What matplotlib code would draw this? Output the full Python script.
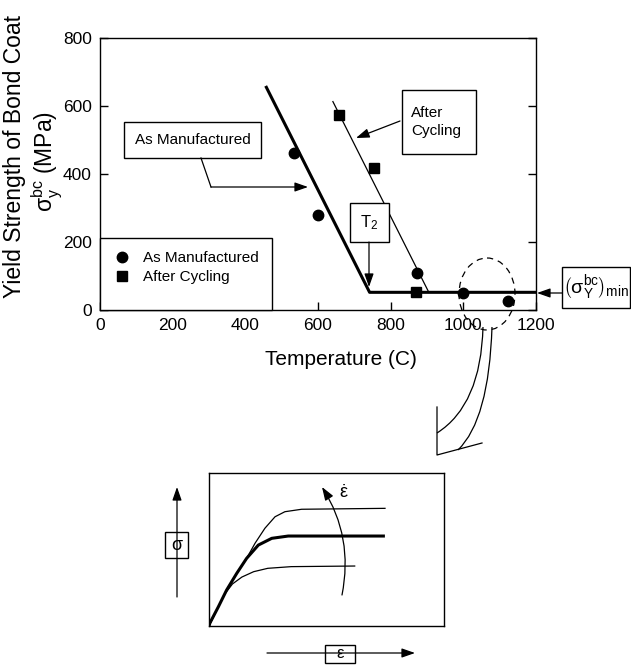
import numpy as np
import matplotlib
matplotlib.use('Agg')
import matplotlib.pyplot as plt
from matplotlib.patches import Rectangle, Ellipse, PathPatch
from matplotlib.path import Path

plt.rcParams['font.family'] = ['Liberation Sans', 'DejaVu Sans']
plt.rcParams['mathtext.fontset'] = 'custom'
plt.rcParams['mathtext.rm'] = 'Liberation Sans'
plt.rcParams['mathtext.it'] = 'Liberation Sans:italic'
plt.rcParams['mathtext.bf'] = 'Liberation Sans:bold'

# measured yield strength points
as_mfg_T = [533, 600, 873, 1000, 1122]
as_mfg_sy = [462, 279, 108, 51, 26]
cyc_T = [658, 755, 870]
cyc_sy = [575, 418, 52]

# trend lines drawn through the data
as_mfg_fit_T = [456, 742, 1200]
as_mfg_fit_sy = [659, 52, 52]
cyc_fit_T = [641, 905]
cyc_fit_sy = [613, 52]

xticks = [0, 200, 400, 600, 800, 1000, 1200]
yticks = [0, 200, 400, 600, 800]

# schematic stress-strain curves (inset, normalised)
mid_eps = [0, 0.004, 0.04, 0.075, 0.118, 0.16, 0.21, 0.267, 0.337, 0.742]
mid_sig = [0, 0.02, 0.126, 0.235, 0.344, 0.442, 0.529, 0.573, 0.588, 0.588]
hi_eps = [0, 0.04, 0.075, 0.118, 0.16, 0.196, 0.238, 0.281, 0.323, 0.394, 0.749]
hi_sig = [0, 0.126, 0.235, 0.344, 0.442, 0.541, 0.639, 0.714, 0.747, 0.763, 0.769]
lo_eps = [0, 0.04, 0.07, 0.1, 0.14, 0.19, 0.25, 0.35, 0.62]
lo_sig = [0, 0.126, 0.215, 0.275, 0.32, 0.355, 0.377, 0.388, 0.392]

W, H = 631, 665
fig = plt.figure(figsize=(W / 100, H / 100), dpi=100)

ax = fig.add_axes([100 / W, (H - 310) / H, 436 / W, 272 / H])
ax.plot(as_mfg_fit_T, as_mfg_fit_sy, 'k-', lw=2.2, clip_on=False, solid_capstyle='butt')
ax.plot(cyc_fit_T, cyc_fit_sy, 'k-', lw=0.9)
ax.plot(as_mfg_T, as_mfg_sy, 'ko', ms=7.5, label='As Manufactured', clip_on=False, zorder=3)
ax.plot(cyc_T, cyc_sy, 'ks', ms=7, label='After Cycling', clip_on=False, zorder=3)
ax.set_xlim(0, 1200)
ax.set_ylim(0, 800)
ax.set_xticks(xticks)
ax.set_yticks(yticks)
ax.tick_params(direction='in', length=6, width=1, right=True, labelsize=12.5, pad=6)
for s in ax.spines.values():
    s.set_linewidth(1)
ax.set_xlabel('Temperature (C)', fontsize=15)
ax.xaxis.set_label_coords(0.552, -0.147)

ax.add_patch(Rectangle((0, 0), 172 / 436, 72 / 272, transform=ax.transAxes,
                       fc='white', ec='k', lw=1, zorder=4, clip_on=False))
leg = ax.legend(loc='upper left', bbox_to_anchor=(0.029, 0.217), frameon=False,
                borderpad=0, borderaxespad=0, handlelength=1.2, handletextpad=0.77,
                labelspacing=0.35, fontsize=11)
leg.set_zorder(5)

fig.text(15 / W, 1 - 156 / H, 'Yield Strength of Bond Coat', rotation=90,
         ha='center', va='center', fontsize=16.5)
fig.text(47 / W, 1 - 161 / H, r'$\mathrm{\sigma}_\mathrm{y}^\mathrm{bc}$ (MPa)', rotation=90,
         ha='center', va='center', fontsize=16.5)

# inset: strain-rate effect
ax_in = fig.add_axes([209 / W, (H - 626) / H, 235 / W, 153 / H])
ax_in.plot(mid_eps, mid_sig, 'k-', lw=2.2)
ax_in.plot(hi_eps, hi_sig, 'k-', lw=0.9)
ax_in.plot(lo_eps, lo_sig, 'k-', lw=0.9)
ax_in.set_xlim(0, 1)
ax_in.set_ylim(0, 1)
ax_in.set_xticks([])
ax_in.set_yticks([])
for s in ax_in.spines.values():
    s.set_linewidth(1)

# overlay in pixel coordinates for the callouts
ov = fig.add_axes([0, 0, 1, 1], zorder=10)
ov.set_xlim(0, W)
ov.set_ylim(H, 0)
ov.axis('off')

def box(x0, y0, x1, y1, text, size, ha='center', tx=None):
    ov.add_patch(Rectangle((x0, y0), x1 - x0, y1 - y0, fc='white', ec='k', lw=1))
    ov.text((x0 + x1) / 2 if tx is None else tx, (y0 + y1) / 2, text, ha=ha, va='center',
            fontsize=size, linespacing=1.3)

def arrow(p0, p1, rad=0):
    ov.annotate('', xy=p1, xytext=p0,
                arrowprops=dict(arrowstyle='-|>,head_length=1.0,head_width=0.35',
                                color='k', lw=0.9, shrinkA=0, shrinkB=0,
                                mutation_scale=8,
                                connectionstyle='arc3,rad=%g' % rad))

box(124, 122, 261, 158, 'As Manufactured', 11)
ov.plot([201, 211], [158, 187], 'k-', lw=0.9)
arrow((211, 187), (308, 187))

box(402, 90, 476, 154, 'After\nCycling', 11, ha='left', tx=411)
arrow((400, 121), (356, 138))

box(350, 203, 389, 242, r'T$_2$', 12)
arrow((369, 242), (369, 287))

box(562, 267, 630, 308, r'$\left(\mathrm{\sigma}_\mathrm{Y}^\mathrm{bc}\right)_\mathrm{min}$', 14)
arrow((562, 293), (537, 293))

ov.add_patch(Ellipse((487, 294), 56, 72, fill=False, ls=(0, (5, 4)), lw=0.9))
ov.add_patch(PathPatch(Path([(483, 327), (481, 405), (437, 433)],
                            [Path.MOVETO, Path.CURVE3, Path.CURVE3]), fill=False, lw=0.9))
ov.add_patch(PathPatch(Path([(492, 327), (489, 420), (458, 450)],
                            [Path.MOVETO, Path.CURVE3, Path.CURVE3]), fill=False, lw=0.9))
ov.plot([437, 437, 482], [407, 455, 443], 'k-', lw=0.9)

arrow((342, 595), (322, 487), rad=0.2)
ov.text(344, 493, r'$\dot{\mathrm{\varepsilon}}$', fontsize=13, ha='center', va='center')

arrow((177, 597), (177, 487))
box(165, 532, 188, 558, 'σ', 13)
arrow((267, 653), (415, 653))
box(325, 645, 355, 663, 'ε', 12)

fig.savefig('out.png', dpi=100)
